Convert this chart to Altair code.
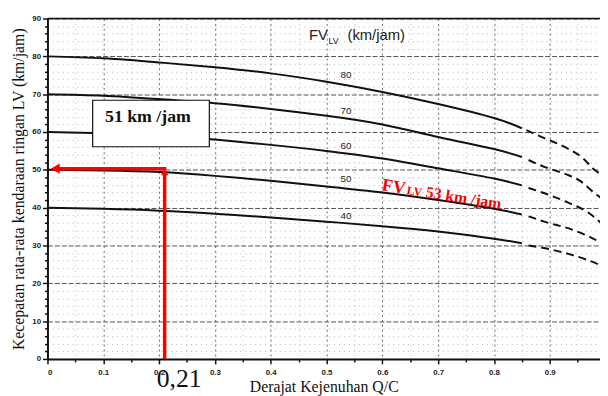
import altair as alt
import pandas as pd

# ---------------- data ----------------
q_solid = [0, 0.1, 0.2, 0.3, 0.4, 0.5, 0.6, 0.7, 0.8, 0.85]
fv80_solid = [80, 79.5, 78.4, 77.1, 75.5, 73.3, 70.6, 67.4, 63.7, 61.0]
fv70_solid = [70, 69.6, 68.7, 67.6, 66.1, 64.3, 62.0, 58.7, 55.5, 53.4]
fv60_solid = [60, 59.7, 59.2, 58.0, 56.6, 55.0, 53.0, 50.4, 47.7, 45.9]
fv50_solid = [50, 49.8, 49.4, 48.4, 47.1, 45.6, 44.0, 42.0, 39.7, 38.2]
fv40_solid = [40, 39.7, 39.2, 38.4, 37.4, 36.3, 35.1, 33.7, 31.8, 30.6]

q80_dash = [0.858, 0.89, 0.93, 0.96, 0.98, 0.995]
fv80_dash = [60.5, 58.4, 55.8, 53.0, 50.0, 48.5]
q70_dash = [0.862, 0.89, 0.91, 0.935, 0.955, 0.975, 0.995]
fv70_dash = [52.6, 50.8, 49.8, 48.5, 47.0, 44.5, 42.2]
q60_dash = [0.862, 0.9, 0.935, 0.97, 0.995]
fv60_dash = [45.2, 43.3, 41.2, 38.6, 35.5]
q50_dash = [0.862, 0.89, 0.94, 0.97, 0.995]
fv50_dash = [37.7, 36.3, 34.2, 32.4, 30.4]
q40_dash = [0.862, 0.9, 0.935, 0.965, 0.995]
fv40_dash = [30.0, 29.0, 27.7, 26.3, 24.5]

curve_names = ["80", "70", "60", "50", "40"]
label_q = [0.535, 0.535, 0.535, 0.535, 0.535]
label_v = [75.1, 65.5, 56.3, 47.5, 37.8]

x_ticks = [round(i * 0.05, 2) for i in range(20)]
y_ticks = list(range(0, 91, 2))

red_q = 0.21
red_v = 50.3

# ---------------- tables ----------------
solid_sets = [fv80_solid, fv70_solid, fv60_solid, fv50_solid, fv40_solid]
dash_sets = [(q80_dash, fv80_dash), (q70_dash, fv70_dash), (q60_dash, fv60_dash),
             (q50_dash, fv50_dash), (q40_dash, fv40_dash)]

solid_rows, dash_rows = [], []
for name, vals in zip(curve_names, solid_sets):
    for q, v in zip(q_solid, vals):
        solid_rows.append({"q": q, "v": v, "fv": name})
for name, (qs, vs) in zip(curve_names, dash_sets):
    for q, v in zip(qs, vs):
        dash_rows.append({"q": q, "v": v, "fv": name})
solid_df = pd.DataFrame(solid_rows)
dash_df = pd.DataFrame(dash_rows)
labels_df = pd.DataFrame({"q": label_q, "v": label_v, "t": curve_names})

SERIF = "Liberation Serif"
SANS = "Liberation Sans"

xs = alt.Scale(domain=[0, 0.99], nice=False)
ys = alt.Scale(domain=[0, 90], nice=False)

x_axis = alt.Axis(
    values=x_ticks,
    labelExpr="round(datum.value*100) % 10 == 0 ? format(datum.value, '.1~f') : ''",
    title="Derajat Kejenuhan Q/C",
    titleFont=SERIF, titleFontSize=16, titleFontWeight="normal", titleColor="#111",
    titlePadding=2,
    labelFont=SANS, labelFontSize=8, labelFontWeight="bold", labelColor="#222",
    labelPadding=5,
    domainColor="#111", domainWidth=2,
    tickColor="#111", tickWidth=1.5,
    tickSize={"condition": {"test": "round(datum.value*100) % 10 == 0", "value": 5}, "value": 3},
    grid=True,
    gridColor={"condition": {"test": "round(datum.value*100) % 10 == 0", "value": "#444"}, "value": "#aaa"},
    gridDash={"condition": {"test": "round(datum.value*100) % 10 == 0", "value": [2, 3]}, "value": [1, 4]},
    gridOpacity=0.8,
    gridWidth=1,
)
y_axis = alt.Axis(
    values=y_ticks,
    labelExpr="datum.value % 10 == 0 ? datum.label : ''",
    title="Kecepatan rata-rata kendaraan ringan LV (km/jam)",
    titleFont=SERIF, titleFontSize=16, titleFontWeight="normal", titleColor="#111",
    titlePadding=5,
    labelFont=SANS, labelFontSize=8, labelFontWeight="bold", labelColor="#222",
    labelPadding=2,
    domainColor="#111", domainWidth=2,
    tickColor="#111", tickWidth=1.5,
    tickSize={"condition": {"test": "datum.value % 10 == 0", "value": 5}, "value": 3},
    grid=True,
    gridColor={"condition": {"test": "datum.value % 10 == 0", "value": "#333"}, "value": "#aaa"},
    gridDash={"condition": {"test": "datum.value % 10 == 0", "value": [5, 2]}, "value": [1, 4]},
    gridOpacity=0.85,
    gridWidth=1,
)

X = alt.X("q:Q", scale=xs, axis=x_axis)
Y = alt.Y("v:Q", scale=ys, axis=y_axis)

solid = alt.Chart(solid_df).mark_line(color="#111", strokeWidth=2, interpolate="natural", clip=True).encode(
    x=X, y=Y, detail="fv:N",
)

dashed = alt.Chart(dash_df).mark_line(color="#111", strokeWidth=2, strokeDash=[8, 5],
                                      interpolate="monotone", clip=True).encode(
    x=X, y=Y, detail="fv:N",
)

top_df = pd.DataFrame({"v": [90]})
top_rule = alt.Chart(top_df).mark_rule(color="#111", strokeWidth=1.5).encode(y=Y)

curve_labels = alt.Chart(labels_df).mark_text(font=SANS, fontSize=10, color="#222", align="center",
                                             baseline="middle").encode(
    x=X, y=Y, text="t:N",
)

# legend-like title FV_LV (km/jam)
fv_parts = pd.DataFrame({
    "q": [0.4685, 0.5035, 0.5375],
    "v": [84.3, 83.2, 84.3],
    "t": ["FV", "LV", "(km/jam)"],
    "s": [15, 9, 15],
})
fv_title = alt.Chart(fv_parts).mark_text(font=SANS, color="#222", align="left", baseline="alphabetic").encode(
    x=X, y=Y, text="t:N",
    size=alt.Size("s:Q", scale=None, legend=None),
)

# white box with 51 km /jam
box_df = pd.DataFrame({"q": [0.081], "q2": [0.29], "v": [68.4], "v2": [56.1]})
box = alt.Chart(box_df).mark_rect(fill="white", stroke="#111", strokeWidth=1.2).encode(
    x=X, x2="q2", y=Y, y2="v2",
)
box_text_df = pd.DataFrame({"q": [0.180], "v": [63.9], "t": ["51 km /jam"]})
box_text = alt.Chart(box_text_df).mark_text(font=SERIF, fontSize=18, fontWeight="bold", color="#111",
                                            align="center", baseline="middle").encode(
    x=X, y=Y, text="t:N",
)

# red arrows
vert_df = pd.DataFrame({"q": [red_q], "v": [0], "v2": [red_v - 0.6]})
vert = alt.Chart(vert_df).mark_rule(color="#ff0000", strokeWidth=3.5).encode(
    x=X, y=Y, y2="v2",
)
horiz_df = pd.DataFrame({"q": [red_q + 0.003], "q2": [0.015], "v": [red_v]})
horiz = alt.Chart(horiz_df).mark_rule(color="#ff0000", strokeWidth=3.5).encode(
    x=X, x2="q2", y=Y,
)
head_left_df = pd.DataFrame({"q": [0.014], "v": [red_v]})
head_left = alt.Chart(head_left_df).mark_point(shape="triangle-left", filled=True, size=110,
                                              color="#ff0000", opacity=1).encode(x=X, y=Y)
head_up_df = pd.DataFrame({"q": [red_q], "v": [49.4]})
head_up = alt.Chart(head_up_df).mark_point(shape="triangle-up", filled=True, size=55,
                                          color="#ff0000", opacity=1).encode(x=X, y=Y)

# red slanted annotation FV_LV 53 km /jam
red_parts = pd.DataFrame({
    "q": [0.598, 0.643, 0.677],
    "v": [44.6, 43.6, 42.8],
    "t": ["FV", "LV", "53 km /jam"],
    "s": [18, 12, 16],
})
red_label = alt.Chart(red_parts).mark_text(font=SERIF, fontWeight="bold", color="#ff0000", angle=9,
                                           align="left", baseline="alphabetic").encode(
    x=X, y=Y, text="t:N",
    size=alt.Size("s:Q", scale=None, legend=None),
)

val_df = pd.DataFrame({"q": [0.236], "v": [-5.2], "t": ["0,21"]})
val_text = alt.Chart(val_df).mark_text(font=SERIF, fontSize=26, color="#111", align="center",
                                       baseline="middle").encode(x=X, y=Y, text="t:N")

chart = alt.layer(
    solid, dashed, top_rule, curve_labels, fv_title, box, box_text,
    vert, horiz, head_left, head_up, red_label, val_text,
).properties(
    width=560, height=345,
    autosize=alt.AutoSizeParams(type="none"),
    padding={"left": 40, "top": 8, "right": 0, "bottom": 44},
).configure_view(stroke=None).configure(background="white")

chart.save("out.html", embed_options={"renderer": "svg", "actions": False})
